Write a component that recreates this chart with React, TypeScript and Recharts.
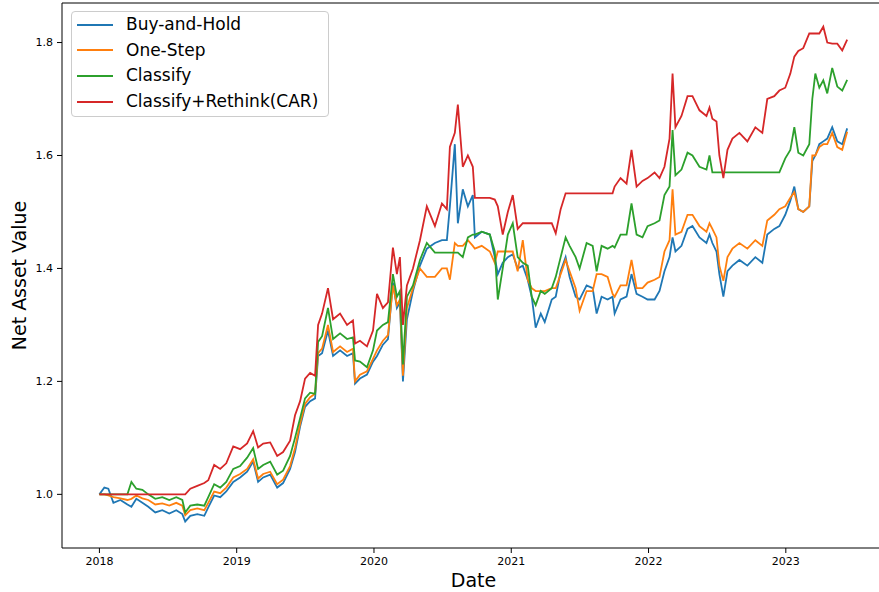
import React from 'react';
import { LineChart, Line, XAxis, YAxis, Legend, ReferenceLine } from 'recharts';

const dates = [
  2018.000, 2018.036, 2018.065, 2018.102, 2018.153, 2018.204, 2018.233, 2018.269, 2018.313, 2018.356,
  2018.407, 2018.458, 2018.509, 2018.560, 2018.604, 2018.625, 2018.662, 2018.713, 2018.764, 2018.793,
  2018.836, 2018.880, 2018.924, 2018.975, 2019.025, 2019.076, 2019.120, 2019.156, 2019.193, 2019.244,
  2019.295, 2019.338, 2019.389, 2019.425, 2019.462, 2019.498, 2019.535, 2019.571, 2019.593, 2019.622,
  2019.665, 2019.702, 2019.753, 2019.804, 2019.847, 2019.862, 2019.898, 2019.949, 2019.993, 2020.022,
  2020.065, 2020.102, 2020.138, 2020.167, 2020.189, 2020.211, 2020.240, 2020.284, 2020.335, 2020.385,
  2020.444, 2020.495, 2020.531, 2020.553, 2020.589, 2020.611, 2020.647, 2020.684, 2020.720, 2020.735,
  2020.785, 2020.844, 2020.880, 2020.902, 2020.938, 2020.975, 2021.011, 2021.047, 2021.084, 2021.120,
  2021.149, 2021.178, 2021.215, 2021.244, 2021.295, 2021.324, 2021.360, 2021.396, 2021.425, 2021.469,
  2021.498, 2021.549, 2021.593, 2021.622, 2021.658, 2021.702, 2021.738, 2021.753, 2021.796, 2021.840,
  2021.876, 2021.913, 2021.956, 2021.993, 2022.044, 2022.080, 2022.116, 2022.153, 2022.175, 2022.196,
  2022.240, 2022.284, 2022.320, 2022.371, 2022.422, 2022.444, 2022.465, 2022.495, 2022.516, 2022.545,
  2022.575, 2022.611, 2022.662, 2022.720, 2022.778, 2022.829, 2022.865, 2022.916, 2022.953, 2022.996,
  2023.033, 2023.062, 2023.091, 2023.127, 2023.171, 2023.193, 2023.215, 2023.244, 2023.273, 2023.302,
  2023.338, 2023.375, 2023.411, 2023.447,
];

const buyAndHold = [
  1.000, 1.012, 1.010, 0.985, 0.990, 0.982, 0.978, 0.992, 0.985, 0.978,
  0.968, 0.972, 0.966, 0.972, 0.965, 0.952, 0.962, 0.965, 0.962, 0.977,
  0.998, 0.995, 1.005, 1.022, 1.030, 1.040, 1.058, 1.022, 1.030, 1.035,
  1.012, 1.020, 1.045, 1.075, 1.120, 1.155, 1.165, 1.170, 1.245, 1.250,
  1.290, 1.245, 1.255, 1.245, 1.250, 1.196, 1.205, 1.212, 1.235, 1.245,
  1.265, 1.275, 1.375, 1.330, 1.340, 1.200, 1.310, 1.360, 1.405, 1.435,
  1.445, 1.450, 1.450, 1.510, 1.620, 1.480, 1.540, 1.510, 1.530, 1.455,
  1.465, 1.460, 1.420, 1.390, 1.410, 1.420, 1.425, 1.400, 1.405, 1.380,
  1.350, 1.295, 1.320, 1.305, 1.345, 1.350, 1.395, 1.420, 1.385, 1.350,
  1.345, 1.370, 1.365, 1.320, 1.350, 1.345, 1.350, 1.320, 1.345, 1.350,
  1.390, 1.355, 1.350, 1.345, 1.345, 1.360, 1.395, 1.420, 1.455, 1.430,
  1.440, 1.470, 1.475, 1.455, 1.445, 1.460, 1.445, 1.430, 1.390, 1.350,
  1.395, 1.405, 1.415, 1.405, 1.420, 1.410, 1.460, 1.470, 1.475, 1.495,
  1.520, 1.545, 1.505, 1.500, 1.510, 1.590, 1.600, 1.620, 1.625, 1.630,
  1.650, 1.625, 1.620, 1.648,
];

const oneStep = [
  1.000, 1.000, 0.998, 0.995, 0.993, 0.990, 0.992, 0.998, 0.993, 0.990,
  0.982, 0.984, 0.980, 0.985, 0.980, 0.963, 0.972, 0.975, 0.972, 0.985,
  1.005, 1.002, 1.012, 1.030, 1.036, 1.045, 1.062, 1.028, 1.036, 1.040,
  1.018, 1.026, 1.050, 1.082, 1.125, 1.160, 1.172, 1.178, 1.250, 1.258,
  1.300, 1.252, 1.262, 1.252, 1.258, 1.200, 1.212, 1.218, 1.240, 1.255,
  1.272, 1.282, 1.370, 1.335, 1.345, 1.210, 1.330, 1.365, 1.400, 1.385,
  1.385, 1.400, 1.400, 1.380, 1.445, 1.440, 1.440, 1.450, 1.440, 1.435,
  1.440, 1.430, 1.410, 1.430, 1.430, 1.430, 1.430, 1.395, 1.450, 1.380,
  1.365, 1.360, 1.360, 1.360, 1.365, 1.365, 1.390, 1.415, 1.395, 1.365,
  1.325, 1.360, 1.360, 1.390, 1.390, 1.385, 1.355, 1.350, 1.370, 1.370,
  1.415, 1.365, 1.365, 1.375, 1.380, 1.385, 1.430, 1.450, 1.540, 1.460,
  1.465, 1.495, 1.495, 1.475, 1.465, 1.480, 1.470, 1.455, 1.405, 1.378,
  1.420, 1.435, 1.445, 1.435, 1.450, 1.440, 1.485, 1.495, 1.505, 1.510,
  1.525, 1.535, 1.505, 1.500, 1.510, 1.600, 1.600, 1.615, 1.620, 1.620,
  1.640, 1.615, 1.610, 1.642,
];

const classify = [
  1.000, 1.000, 1.000, 1.000, 1.000, 1.000, 1.022, 1.010, 1.008, 1.000,
  0.992, 0.995, 0.990, 0.995, 0.990, 0.968, 0.980, 0.982, 0.980, 0.995,
  1.018, 1.012, 1.022, 1.045, 1.050, 1.065, 1.082, 1.045, 1.052, 1.058,
  1.035, 1.042, 1.068, 1.100, 1.135, 1.170, 1.180, 1.178, 1.270, 1.280,
  1.330, 1.275, 1.285, 1.275, 1.278, 1.237, 1.235, 1.225, 1.255, 1.290,
  1.300, 1.305, 1.390, 1.350, 1.360, 1.230, 1.350, 1.370, 1.415, 1.445,
  1.428, 1.428, 1.428, 1.428, 1.428, 1.428, 1.420, 1.455, 1.460, 1.460,
  1.465, 1.460, 1.430, 1.345, 1.400, 1.460, 1.480, 1.420, 1.410, 1.405,
  1.350, 1.335, 1.360, 1.355, 1.365, 1.385, 1.420, 1.455, 1.440, 1.420,
  1.400, 1.445, 1.440, 1.395, 1.440, 1.435, 1.440, 1.437, 1.460, 1.460,
  1.515, 1.460, 1.455, 1.475, 1.480, 1.485, 1.530, 1.545, 1.645, 1.565,
  1.575, 1.605, 1.600, 1.580, 1.575, 1.600, 1.570, 1.570, 1.570, 1.570,
  1.570, 1.570, 1.570, 1.570, 1.570, 1.570, 1.570, 1.570, 1.570, 1.595,
  1.610, 1.650, 1.605, 1.600, 1.620, 1.700, 1.745, 1.720, 1.733, 1.710,
  1.755, 1.722, 1.715, 1.734,
];

const classifyRethink = [
  1.000, 1.000, 1.000, 1.000, 1.000, 1.000, 1.000, 1.000, 1.000, 1.000,
  1.000, 1.000, 1.000, 1.000, 1.000, 1.000, 1.010, 1.015, 1.020, 1.025,
  1.052, 1.045, 1.055, 1.085, 1.080, 1.090, 1.112, 1.083, 1.090, 1.092,
  1.068, 1.075, 1.095, 1.140, 1.165, 1.205, 1.215, 1.210, 1.300, 1.320,
  1.365, 1.310, 1.320, 1.300, 1.308, 1.267, 1.272, 1.262, 1.290, 1.355,
  1.330, 1.340, 1.437, 1.390, 1.420, 1.300, 1.370, 1.400, 1.450, 1.510,
  1.475, 1.515, 1.505, 1.615, 1.640, 1.690, 1.580, 1.600, 1.580, 1.525,
  1.525, 1.525, 1.522, 1.510, 1.460, 1.500, 1.530, 1.470, 1.480, 1.480,
  1.480, 1.480, 1.480, 1.480, 1.480, 1.462, 1.505, 1.533, 1.533, 1.533,
  1.533, 1.533, 1.533, 1.533, 1.533, 1.533, 1.533, 1.545, 1.560, 1.550,
  1.610, 1.545, 1.555, 1.560, 1.570, 1.560, 1.580, 1.630, 1.745, 1.650,
  1.670, 1.705, 1.705, 1.680, 1.670, 1.685, 1.665, 1.660, 1.600, 1.560,
  1.610, 1.630, 1.640, 1.625, 1.650, 1.640, 1.700, 1.705, 1.715, 1.720,
  1.745, 1.775, 1.785, 1.790, 1.816, 1.816, 1.816, 1.816, 1.828, 1.800,
  1.798, 1.798, 1.786, 1.805,
];

const seriesKeys = ['bh', 'os', 'cl', 'car'];
const seriesNames = ['Buy-and-Hold', 'One-Step', 'Classify', 'Classify+Rethink(CAR)'];
const seriesColors = ['#1f77b4', '#ff7f0e', '#2ca02c', '#d62728'];
const yearTicks = [2018, 2019, 2020, 2021, 2022, 2023];
const valueTicks = [1.0, 1.2, 1.4, 1.6, 1.8];

const rows = dates.map((t, i) => ({
  t,
  bh: buyAndHold[i],
  os: oneStep[i],
  cl: classify[i],
  car: classifyRethink[i],
}));

const FONT = 'DejaVu Sans, sans-serif';
const X_DOMAIN: [number, number] = [2017.7275, 2023.7225];
const Y_DOMAIN: [number, number] = [0.905, 1.870];

const XTitle = () => (
  <text x={473.5} y={587} textAnchor="middle" fontSize={19} fontFamily={FONT} fill="#000">
    Date
  </text>
);

const YTitle = () => (
  <text
    transform="rotate(-90)"
    x={-275.5}
    y={26}
    textAnchor="middle"
    fontSize={19}
    fontFamily={FONT}
    fill="#000"
  >
    Net Asset Value
  </text>
);

const LegendBox = () => (
  <div
    style={{
      boxSizing: 'border-box',
      width: 258,
      height: 106,
      border: '1px solid #cccccc',
      borderRadius: 4,
      background: 'rgba(255,255,255,0.8)',
      paddingTop: 0,
      fontFamily: FONT,
      fontSize: 17,
      color: '#000',
    }}
  >
    {seriesNames.map((name, i) => (
      <div key={name} style={{ height: 25.6, display: 'flex', alignItems: 'center' }}>
        <svg width={36} height={4} style={{ marginLeft: 5, marginRight: 13, display: 'block' }}>
          <line x1={0} y1={2} x2={36} y2={2} stroke={seriesColors[i]} strokeWidth={2} />
        </svg>
        <span style={{ lineHeight: 1, whiteSpace: 'nowrap' }}>{name}</span>
      </div>
    ))}
  </div>
);

export default function App() {
  return (
    <div style={{ position: 'absolute', left: 0, top: 0, width: 879, height: 592, overflow: 'hidden', background: '#fff' }}>
      <LineChart
        width={886}
        height={592}
        data={rows}
        margin={{ top: 3, right: 1, bottom: 0, left: 0 }}
      >
        <XAxis
          dataKey="t"
          type="number"
          domain={X_DOMAIN}
          ticks={yearTicks}
          tickFormatter={(v: number) => String(Math.round(v))}
          allowDataOverflow
          height={44}
          tickSize={5}
          tickMargin={4.5}
          axisLine={{ stroke: '#000', strokeWidth: 1 }}
          tickLine={{ stroke: '#000', strokeWidth: 1 }}
          tick={{ fontSize: 11, fill: '#000', fontFamily: FONT }}
          label={<XTitle />}
        />
        <YAxis
          type="number"
          domain={Y_DOMAIN}
          ticks={valueTicks}
          tickFormatter={(v: number) => v.toFixed(1)}
          allowDataOverflow
          width={62}
          tickSize={5}
          tickMargin={4}
          axisLine={{ stroke: '#000', strokeWidth: 1 }}
          tickLine={{ stroke: '#000', strokeWidth: 1 }}
          tick={{ fontSize: 11, fill: '#000', fontFamily: FONT }}
          label={<YTitle />}
        />
        <ReferenceLine y={Y_DOMAIN[1]} stroke="#000" strokeWidth={1} ifOverflow="extendDomain" />
        {seriesKeys.map((k, i) => (
          <Line
            key={k}
            dataKey={k}
            name={seriesNames[i]}
            type="linear"
            stroke={seriesColors[i]}
            strokeWidth={1.8}
            dot={false}
            activeDot={false}
            isAnimationActive={false}
          />
        ))}
        <Legend
          layout="vertical"
          align="center"
          verticalAlign="middle"
          content={<LegendBox />}
          wrapperStyle={{ left: 71, top: 11, width: 258, height: 106, margin: 0 }}
        />
      </LineChart>
    </div>
  );
}
